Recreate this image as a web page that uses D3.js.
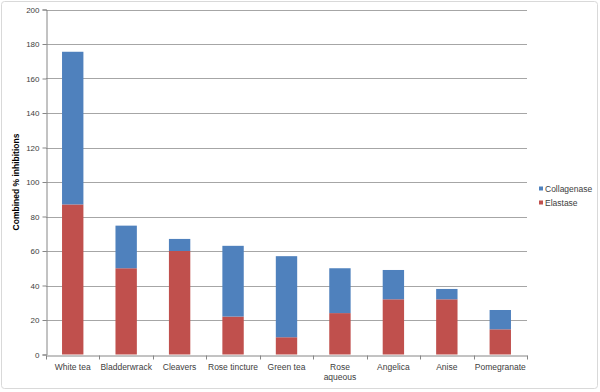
<!DOCTYPE html>
<html>
<head>
<meta charset="utf-8">
<script src="https://cdn.jsdelivr.net/npm/d3@7"></script>
<style>
  body { margin: 0; background: #fff; }
  svg text { font-family: "Liberation Sans", Arial, sans-serif; }
</style>
</head>
<body>
<div id="chart"></div>
<script>
// Data
const categories = [['White tea'], ['Bladderwrack'], ['Cleavers'], ['Rose tincture'], ['Green tea'],
  ['Rose', 'aqueous'], ['Angelica'], ['Anise'], ['Pomegranate']];
const elastase = [87, 50, 60, 22, 10, 24, 32, 32, 14.6];
const collagenase = [88.5, 24.7, 7, 41, 47, 26, 17, 6, 11.2];
const seriesNames = ['Collagenase', 'Elastase'];
const yTicks = [0, 20, 40, 60, 80, 100, 120, 140, 160, 180, 200];

const width = 600, height = 392;
const margin = {top: 9.5, right: 73, bottom: 37.5, left: 46};
const colors = {Elastase: '#c0504d', Collagenase: '#4f81bd'};

const svg = d3.select('#chart').append('svg')
    .attr('width', width)
    .attr('height', height);

// outer chart border
svg.append('rect')
    .attr('x', 1.5).attr('y', 1.5)
    .attr('width', 596).attr('height', 387)
    .attr('rx', 3)
    .attr('fill', '#fff')
    .attr('stroke', '#d9d9d9');

const x = d3.scaleBand()
    .domain(d3.range(categories.length))
    .range([margin.left, width - margin.right]);

const y = d3.scaleLinear()
    .domain([0, 200])
    .range([height - margin.bottom, margin.top]);

// gridlines
svg.append('g')
    .selectAll('line')
    .data(yTicks.slice(1))
    .join('line')
    .attr('x1', margin.left).attr('x2', width - margin.right)
    .attr('y1', d => Math.round(y(d)) + 0.5).attr('y2', d => Math.round(y(d)) + 0.5)
    .attr('stroke', '#a6a6a6');

// stacked bars
const rows = categories.map((c, i) => ({i, Elastase: elastase[i], Collagenase: collagenase[i]}));
const stack = d3.stack().keys(['Elastase', 'Collagenase'])(rows);
const barW = x.bandwidth() / 2.5;

svg.append('g')
    .selectAll('g')
    .data(stack)
    .join('g')
    .attr('fill', d => colors[d.key])
    .selectAll('rect')
    .data(d => d)
    .join('rect')
    .attr('x', d => x(d.data.i) + (x.bandwidth() - barW) / 2)
    .attr('width', barW)
    .attr('y', d => y(d[1]))
    .attr('height', d => y(d[0]) - y(d[1]));

// y axis
const yAxis = d3.axisLeft(y).tickValues(yTicks).tickSize(4).tickPadding(3);
const yG = svg.append('g')
    .attr('transform', `translate(${margin.left + 0.5},0)`)
    .call(yAxis);
yG.selectAll('path, line').attr('stroke', '#868686');
yG.selectAll('text').attr('fill', '#404040').style('font-size', '8px');

// x axis
const xAxis = d3.axisBottom(x).tickSize(0).tickFormat('');
const xG = svg.append('g')
    .attr('transform', `translate(0,${Math.round(y(0)) + 0.5})`)
    .call(xAxis);
xG.select('.domain').attr('stroke', '#868686');
xG.selectAll('.sep')
    .data(d3.range(categories.length + 1))
    .join('line')
    .attr('class', 'sep')
    .attr('x1', i => Math.round(margin.left + i * x.step()) + 0.5)
    .attr('x2', i => Math.round(margin.left + i * x.step()) + 0.5)
    .attr('y1', 0).attr('y2', 4)
    .attr('stroke', '#868686');

const labels = svg.append('g')
    .selectAll('text')
    .data(categories)
    .join('text')
    .attr('x', (d, i) => x(i) + x.bandwidth() / 2)
    .attr('y', height - margin.bottom + 15)
    .attr('text-anchor', 'middle')
    .attr('fill', '#404040')
    .style('font-size', '8.5px');
labels.selectAll('tspan')
    .data(d => d)
    .join('tspan')
    .attr('x', function() { return d3.select(this.parentNode).attr('x'); })
    .attr('dy', (d, i) => i === 0 ? 0 : 10.5)
    .text(d => d);

// y axis title
svg.append('text')
    .attr('transform', `translate(19,${(margin.top + height - margin.bottom) / 2}) rotate(-90)`)
    .attr('text-anchor', 'middle')
    .attr('font-weight', 'bold')
    .attr('fill', '#000')
    .style('font-size', '8.5px')
    .text('Combined % inhibitions');

// legend
const legend = svg.append('g')
    .attr('transform', 'translate(539,189)');
const item = legend.selectAll('g')
    .data(seriesNames)
    .join('g')
    .attr('transform', (d, i) => `translate(0,${i * 14})`);
item.append('rect')
    .attr('x', 0).attr('y', -2.5)
    .attr('width', 4).attr('height', 4)
    .attr('fill', d => colors[d]);
item.append('text')
    .attr('x', 6).attr('y', 3)
    .attr('fill', '#404040')
    .style('font-size', '8.5px')
    .text(d => d);
</script>
</body>
</html>
